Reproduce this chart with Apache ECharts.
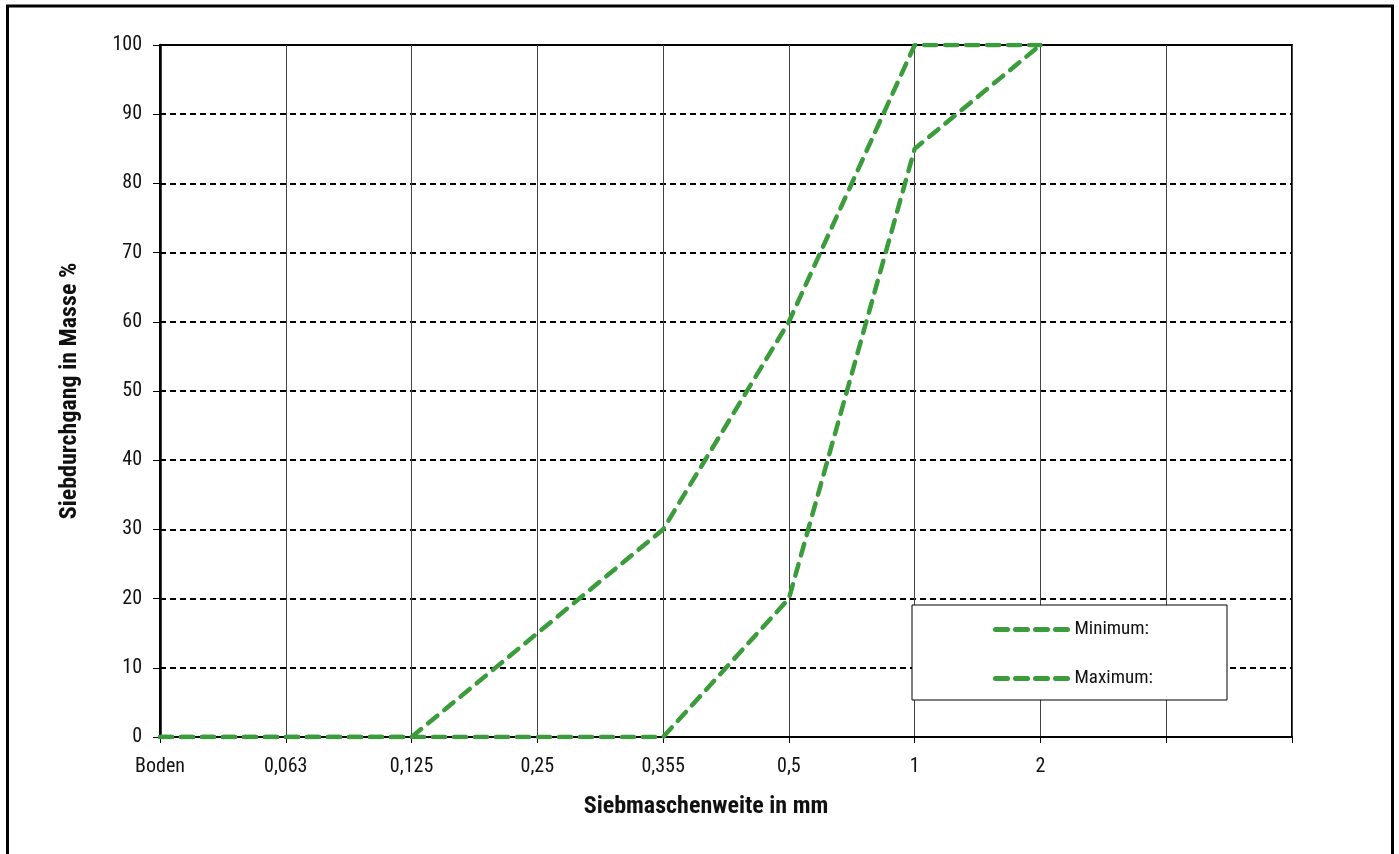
<!DOCTYPE html>
<html>
<head>
<meta charset="utf-8">
<script src="https://cdn.jsdelivr.net/npm/echarts@6/dist/echarts.min.js"></script>
<style>
html,body{margin:0;padding:0;background:#fff;}
#c{width:1399px;height:854px;}
</style>
</head>
<body>
<div id="c"></div>
<script>
const categories = ['Boden', '0,063', '0,125', '0,25', '0,355', '0,5', '1', '2', '', ''];
const minimumValues = [0, 0, 0, 0, 0, 20, 85, 100, null, null];
const maximumValues = [0, 0, 0, 15, 30, 60, 100, 100, null, null];
const yTicks = { min: 0, max: 100, interval: 10 };

const FONT = '"Liberation Sans Narrow", "Roboto Condensed", Roboto, sans-serif';
const GREEN = '#3a9c3a';

const chart = echarts.init(document.getElementById('c'));
chart.setOption({
  animation: false,
  backgroundColor: '#fff',
  textStyle: { fontFamily: FONT },
  graphic: [
    { type: 'rect', shape: { x: 7.5, y: 6, width: 1385, height: 870 }, style: { fill: 'none', stroke: '#000', lineWidth: 3 }, z: 0 },
    { type: 'rect', shape: { x: 912, y: 605, width: 315, height: 95 }, style: { fill: '#fff', stroke: '#000', lineWidth: 1 }, z: 50 }
  ],
  grid: { left: 160, top: 45, width: 1132, height: 692, show: true, borderColor: '#000', borderWidth: 2, backgroundColor: 'transparent' },
  legend: {
    left: 993, top: 620, padding: 0, orient: 'vertical', itemWidth: 72, itemHeight: 14, itemGap: 30,
    textStyle: { fontFamily: FONT, fontSize: 19, color: '#111', padding: [0, 0, 0, 2] },
    itemStyle: { opacity: 0 },
    lineStyle: { color: GREEN, width: 5, type: [12, 8], cap: 'round' },
    z: 60,
    data: ['Minimum:', 'Maximum:']
  },
  xAxis: {
    type: 'category', data: categories, boundaryGap: false,
    name: 'Siebmaschenweite in mm', nameLocation: 'middle', nameGap: 58,
    nameTextStyle: { fontFamily: FONT, fontSize: 24, fontWeight: 'bold', color: '#111', padding: [0, 40, 0, 0] },
    axisLine: { lineStyle: { color: '#000', width: 2 } },
    axisTick: { show: true, alignWithLabel: true, length: 6, lineStyle: { color: '#000', width: 1 } },
    axisLabel: { fontFamily: FONT, fontSize: 20, color: '#111', margin: 20, interval: 0 },
    splitLine: { show: true, lineStyle: { color: '#444', width: 1, type: 'solid' } }
  },
  yAxis: {
    type: 'value', min: yTicks.min, max: yTicks.max, interval: yTicks.interval,
    name: 'Siebdurchgang in Masse %', nameLocation: 'middle', nameGap: 78, nameRotate: 90,
    nameTextStyle: { fontFamily: FONT, fontSize: 24, fontWeight: 'bold', color: '#111' },
    axisLine: { show: true, lineStyle: { color: '#000', width: 2.5 } },
    axisTick: { show: true, length: 7, lineStyle: { color: '#000', width: 1 } },
    axisLabel: { fontFamily: FONT, fontSize: 20, color: '#111', margin: 18 },
    splitLine: { show: true, lineStyle: { color: '#000', width: 2, type: [6, 4] } }
  },
  series: [
    { name: 'Minimum:', type: 'line', data: minimumValues, symbol: 'none', z: 10,
      lineStyle: { color: GREEN, width: 4.5, type: [12, 9], cap: 'round' }, itemStyle: { color: GREEN } },
    { name: 'Maximum:', type: 'line', data: maximumValues, symbol: 'none', z: 10,
      lineStyle: { color: GREEN, width: 4.5, type: [12, 9], cap: 'round' }, itemStyle: { color: GREEN } }
  ]
});
</script>
</body>
</html>
